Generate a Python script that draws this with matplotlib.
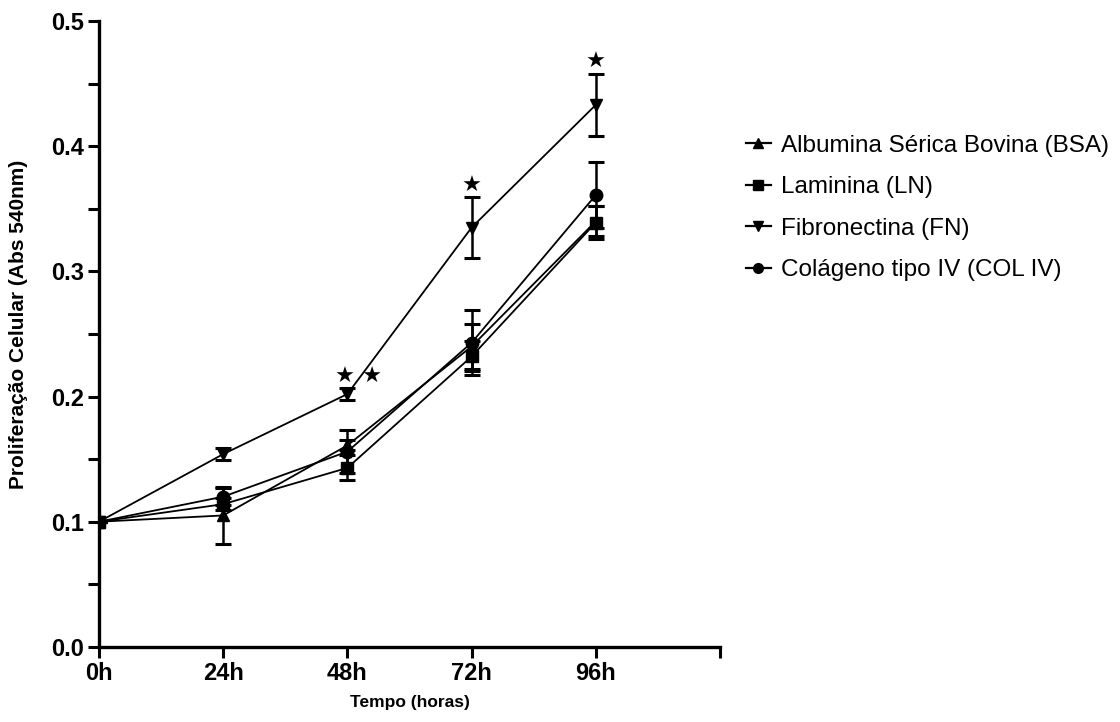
import numpy as np
import matplotlib.pyplot as plt
from matplotlib.lines import Line2D

plt.rcParams['font.family'] = ['Liberation Sans', 'DejaVu Sans']

times = ["0h", "24h", "48h", "72h", "96h"]

bsa = [0.100, 0.105, 0.161, 0.240, 0.340]
bsa_err = [0.0, 0.023, 0.004, 0.018, 0.012]
ln = [0.100, 0.114, 0.143, 0.232, 0.339]
ln_err = [0.0, 0.005, 0.010, 0.012, 0.013]
fn = [0.100, 0.154, 0.202, 0.335, 0.433]
fn_err = [0.0, 0.005, 0.005, 0.024, 0.025]
col = [0.100, 0.120, 0.156, 0.243, 0.361]
col_err = [0.0, 0.007, 0.017, 0.026, 0.026]

labels = ["Albumina Sérica Bovina (BSA)", "Laminina (LN)",
          "Fibronectina (FN)", "Colágeno tipo IV (COL IV)"]

# significance stars (time index, text)
stars = [(2, "★ ★"), (3, "★"), (4, "★")]

x = np.arange(len(times))

fig = plt.figure(figsize=(11.2, 7.22), dpi=100)
ax = fig.add_axes([0.0884, 0.104, 0.5545, 0.867])

series = [(bsa, bsa_err, '^'), (ln, ln_err, 's'), (fn, fn_err, 'v'), (col, col_err, 'o')]
handles = []
for (vals, err, m), lab in zip(series, labels):
    ax.errorbar(x, vals, yerr=err, color='black', marker=m, markersize=9,
                linewidth=1.3, elinewidth=1.8, capsize=6, capthick=2.2)
    handles.append(Line2D([], [], color='black', marker=m, markersize=7,
                          linewidth=1.6, label=lab))

for i, s in stars:
    ytop = fn[i] + fn_err[i]
    dx = 0.09 if i == 2 else 0.0
    ax.text(x[i] + dx, ytop + 0.009, s, ha='center', va='center', fontsize=16,
            family=['DejaVu Sans'])

ax.set_xlim(0, 5)
ax.set_ylim(0, 0.5)
ax.set_xticks(list(x) + [5])
ax.set_xticklabels(times + [""])
ax.set_yticks(np.arange(0, 0.51, 0.1))
ax.set_yticks(np.arange(0.05, 0.5, 0.1), minor=True)
ax.set_yticklabels(["0.0", "0.1", "0.2", "0.3", "0.4", "0.5"])

for sp in ['top', 'right']:
    ax.spines[sp].set_visible(False)
for sp in ['left', 'bottom']:
    ax.spines[sp].set_linewidth(2.4)

ax.tick_params(axis='both', which='both', length=8, width=2.2, direction='out')
ax.tick_params(axis='both', labelsize=17, pad=3)
for t in ax.get_xticklabels() + ax.get_yticklabels():
    t.set_fontweight('bold')

ax.set_xlabel("Tempo (horas)", fontsize=12.5, fontweight='bold', labelpad=7)
ax.set_ylabel("Proliferação Celular (Abs 540nm)", fontsize=15, fontweight='bold')
ax.yaxis.set_label_coords(-0.114, 0.515)

ax.legend(handles=handles, loc='upper left', bbox_to_anchor=(1.006, 0.853), frameon=False,
          fontsize=17.5, handlelength=1.05, handletextpad=0.42, labelspacing=0.8,
          numpoints=1)

fig.savefig("out.png", dpi=100)
